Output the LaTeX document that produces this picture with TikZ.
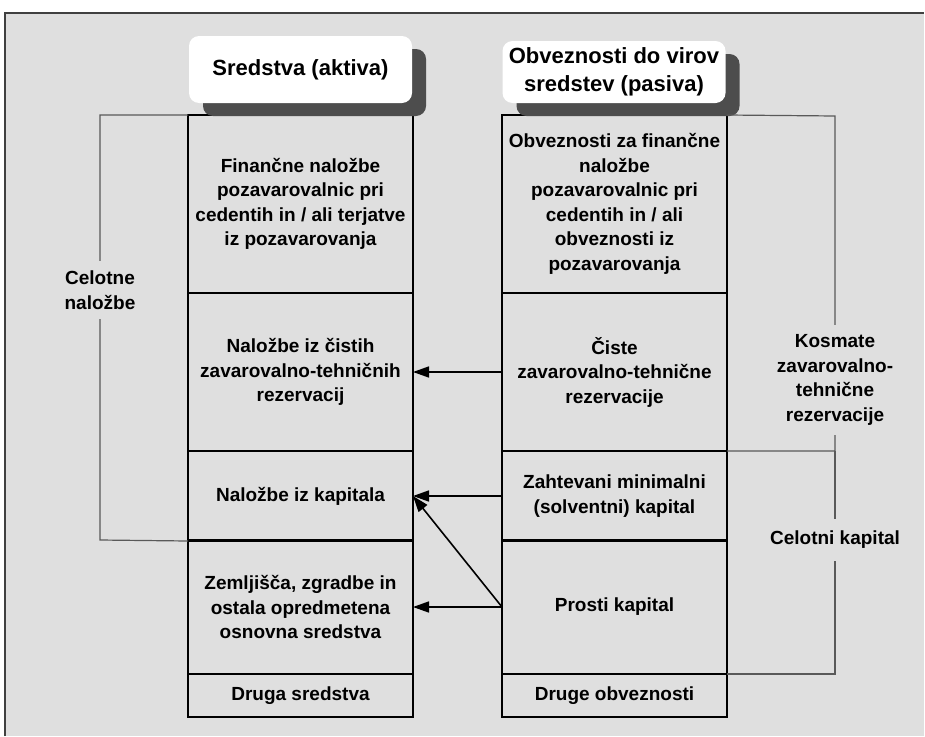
\documentclass[tikz,border=0pt]{standalone}
\usepackage{fontspec}
\setmainfont{Liberation Sans}[BoldFont={Liberation Sans Bold}]
\usetikzlibrary{arrows.meta,shadows}
\definecolor{bggray}{RGB}{223,223,223}
\definecolor{shgray}{RGB}{77,77,77}
\definecolor{framegray}{RGB}{64,64,64}
\begin{document}
\begin{tikzpicture}[x=1pt,y=-1pt,
  cell/.style={draw=black,line width=2.5pt,minimum width=225pt,inner sep=0pt,outer sep=0pt,
    align=center,font=\bfseries\fontsize{19}{24.5}\selectfont},
  head/.style={fill=white,rounded corners=10pt,minimum width=223pt,inner sep=0pt,outer sep=0pt,
    align=center,font=\bfseries\fontsize{22}{28}\selectfont,
    drop shadow={shadow xshift=14pt,shadow yshift=-13pt,fill=shgray,opacity=1}},
  brk/.style={draw=black!65,line width=1.2pt},
  brklabel/.style={fill=bggray,align=center,inner xsep=2pt,inner ysep=10pt,
    font=\bfseries\fontsize{19}{24.5}\selectfont},
  arr/.style={line width=1.6pt,-{Triangle[length=16pt,width=11pt]}}]
\useasboundingbox (0,0) rectangle (925,736);
\fill[white] (0,0) rectangle (925,736);
\fill[bggray] (5,13) rectangle (924,736);
\draw[framegray,line width=1.5pt] (5,736) -- (5,13) -- (924,13);

% left column
\node[cell,minimum height=178pt] (l1) at (300.5,204) {Finančne naložbe\\pozavarovalnic pri\\cedentih in / ali terjatve\\iz pozavarovanja};
\node[cell,minimum height=158pt] (l2) at (300.5,372) {Naložbe iz čistih\\zavarovalno-tehničnih\\rezervacij};
\node[cell,minimum height=90pt] (l3) at (300.5,496) {Naložbe iz kapitala};
\node[cell,minimum height=134pt] (l4) at (300.5,607) {Zemljišča, zgradbe in\\ostala opredmetena\\osnovna sredstva};
\node[cell,minimum height=43pt] (l5) at (300.5,695.5) {Druga sredstva};

% right column
\node[cell,minimum height=178pt] (r1) at (614.5,204) {Obveznosti za finančne\\naložbe\\pozavarovalnic pri\\cedentih in / ali\\obveznosti iz\\pozavarovanja};
\node[cell,minimum height=158pt] (r2) at (614.5,372) {Čiste\\zavarovalno-tehnične\\rezervacije};
\node[cell,minimum height=90pt] (r3) at (614.5,496) {Zahtevani minimalni\\(solventni) kapital};
\node[cell,minimum height=134pt] (r4) at (614.5,607) {Prosti kapital};
\node[cell,minimum height=43pt] (r5) at (614.5,695.5) {Druge obveznosti};

% headers
\node[head,minimum height=67pt] (hl) at (300.5,69.5) {Sredstva (aktiva)};
\node[head,minimum height=62pt] (hr) at (614,72) {Obveznosti do virov\\sredstev (pasiva)};

% brackets
\coordinate (lbt) at (100,115);
\coordinate (lbb) at (100,540);
\draw[brk] (l1.north west) -- (lbt) -- (lbb) -- (l3.south west);
\node[brklabel] (lbl) at (100,290) {Celotne\\naložbe};

\coordinate (kbt) at (835,116);
\coordinate (kbb) at (835,451);
\coordinate (cbb) at (835,674);
\draw[brk] (r1.north east) -- (kbt) -- (kbb) -- (r2.south east);
\draw[brk] (kbb) -- (cbb) -- (r4.south east);
\node[brklabel] (kbl) at (835,380) {Kosmate\\zavarovalno-\\tehnične\\rezervacije};
\node[brklabel,inner ysep=12pt] (cbl) at (835,540) {Celotni kapital};

% arrows
\draw[arr] (r2.west) -- (l2.east);
\draw[arr] (r3.west) -- (l3.east);
\draw[arr] (r4.west) -- (l4.east);
\draw[arr] (r4.west) -- (l3.east);
\end{tikzpicture}
\end{document}
